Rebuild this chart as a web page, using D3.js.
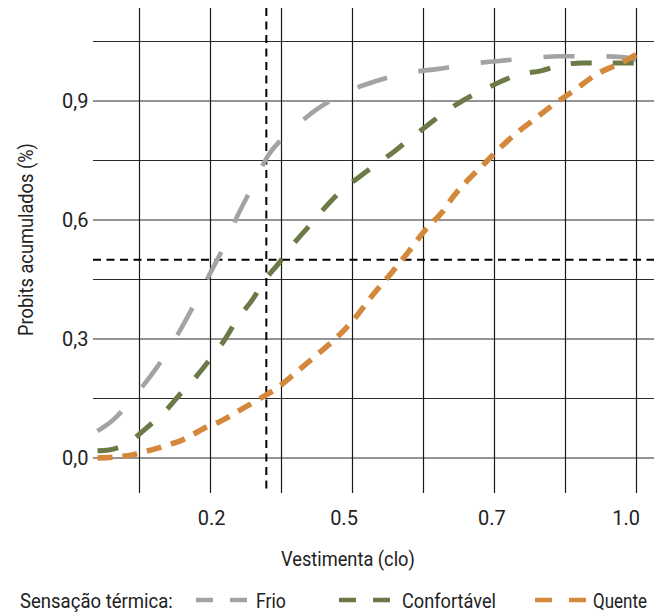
<!DOCTYPE html>
<html>
<head>
<meta charset="utf-8">
<script src="https://cdn.jsdelivr.net/npm/d3@7"></script>
<style>
  html, body { margin: 0; padding: 0; background: #fff; }
  svg { display: block; }
  text { font-family: Roboto, "Noto Sans", sans-serif; fill: #222; }
</style>
</head>
<body>
<svg id="chart" width="654" height="615"></svg>
<script>
// ---- data (x in position units along the clo axis, y = cumulative probit) ----
const xGridPositions = [1, 2, 3, 4, 5, 6, 7, 8];
const xTickPositions = [2.02, 3.885, 5.97, 7.86];
const xTickLabels = ["0.2", "0.5", "0.7", "1.0"];
const yGridValues = [0, 0.15, 0.3, 0.45, 0.6, 0.75, 0.9, 1.05];
const yTickValues = [0, 0.3, 0.6, 0.9];
const yTickLabels = ["0,0", "0,3", "0,6", "0,9"];
const refX = 2.79;
const refY = 0.5;

const seriesNames = ["Frio", "Confortável", "Quente"];

const frioX = [0.41, 0.63, 0.97, 1.25, 1.52, 1.74, 1.97, 2.18, 2.39, 2.59, 2.81, 3.12, 3.51, 3.89, 4.35, 4.77, 5.22, 5.63, 6.07, 6.49, 6.93, 7.35, 7.80, 8.00];
const frioY = [0.068, 0.096, 0.164, 0.229, 0.305, 0.376, 0.456, 0.529, 0.613, 0.683, 0.761, 0.822, 0.880, 0.920, 0.951, 0.971, 0.981, 0.993, 1.001, 1.008, 1.013, 1.013, 1.011, 1.004];

const confX = [0.41, 0.57, 0.88, 1.07, 1.38, 1.59, 1.81, 2.01, 2.21, 2.38, 2.59, 2.76, 2.97, 3.17, 3.38, 3.60, 3.83, 4.08, 4.34, 4.58, 4.83, 5.05, 5.29, 5.55, 5.82, 6.08, 6.37, 6.66, 6.96, 7.25, 7.55, 7.86, 8.00];
const confY = [0.018, 0.020, 0.043, 0.071, 0.121, 0.164, 0.207, 0.252, 0.300, 0.350, 0.398, 0.446, 0.492, 0.539, 0.582, 0.628, 0.671, 0.706, 0.741, 0.771, 0.807, 0.837, 0.870, 0.900, 0.925, 0.948, 0.968, 0.976, 0.991, 0.996, 0.996, 0.996, 0.996];

const quenteX = [0.41, 0.69, 0.90, 1.05, 1.26, 1.40, 1.60, 1.74, 1.95, 2.09, 2.28, 2.42, 2.60, 2.74, 2.94, 3.12, 3.33, 3.50, 3.79, 4.05, 4.29, 4.55, 4.79, 5.03, 5.27, 5.42, 5.59, 5.83, 6.08, 6.35, 6.54, 6.83, 7.14, 7.45, 7.79, 8.01];
const quenteY = [0.000, 0.003, 0.008, 0.015, 0.025, 0.033, 0.045, 0.058, 0.078, 0.088, 0.106, 0.121, 0.139, 0.154, 0.176, 0.202, 0.234, 0.260, 0.305, 0.355, 0.411, 0.466, 0.519, 0.575, 0.620, 0.658, 0.693, 0.736, 0.781, 0.824, 0.850, 0.890, 0.928, 0.968, 0.996, 1.018];

const series = [
  { name: seriesNames[0], xs: frioX, ys: frioY, color: "#a3a3a3", width: 4.6, dash: "31,32", legendDash: "17,17" },
  { name: seriesNames[1], xs: confX, ys: confY, color: "#6b7a46", width: 5, dash: "21,21", legendDash: "17,17" },
  { name: seriesNames[2], xs: quenteX, ys: quenteY, color: "#d4883b", width: 5.5, dash: "15,10", legendDash: "17,17" }
];

// ---- helpers ----
const svg = d3.select("#chart");
// draw a horizontally condensed text starting at (tx, ty), squeezed to width w, optionally rotated
function condensedText(str, tx, ty, w, rotate) {
  const g = svg.append("g").attr("transform", `translate(${tx},${ty})` + (rotate ? ` rotate(${rotate})` : ""));
  const t = g.append("text").attr("x", 0).attr("y", 0).attr("font-size", 20).text(str);
  const natural = t.node().getComputedTextLength();
  const k = Math.min(1, w / natural);
  t.attr("transform", `scale(${k},1)`);
  return t;
}

// ---- scales ----
const x = d3.scaleLinear().domain([0.347, 8.254]).range([93, 654]);
const y = d3.scaleLinear().domain([0, 1.05]).range([458, 41.5]);

const gridTop = 8, gridBottom = 493;

// horizontal grid
svg.append("g").selectAll("line").data(yGridValues).join("line")
  .attr("x1", x.range()[0]).attr("x2", x.range()[1])
  .attr("y1", d => y(d)).attr("y2", d => y(d))
  .attr("stroke", "#2a2a2a").attr("stroke-width", 1.1);

// vertical grid
svg.append("g").selectAll("line").data(xGridPositions).join("line")
  .attr("x1", d => Math.round(x(d)) + 0.5).attr("x2", d => Math.round(x(d)) + 0.5)
  .attr("y1", gridTop).attr("y2", gridBottom)
  .attr("stroke", "#1a1a1a").attr("stroke-width", 1.2);

// reference dashed lines
svg.append("line")
  .attr("x1", x.range()[0]).attr("x2", x.range()[1])
  .attr("y1", y(refY)).attr("y2", y(refY))
  .attr("stroke", "#000").attr("stroke-width", 2).attr("stroke-dasharray", "8,5.5");
svg.append("line")
  .attr("x1", x(refX)).attr("x2", x(refX))
  .attr("y1", gridTop).attr("y2", gridBottom - 2)
  .attr("stroke", "#000").attr("stroke-width", 2).attr("stroke-dasharray", "8,5.5");

// y tick labels
svg.append("g").selectAll("text").data(yTickValues).join("text")
  .attr("x", 88.5).attr("y", d => y(d) + 7)
  .attr("text-anchor", "end").attr("font-size", 20)
  .text((d, i) => yTickLabels[i]);

// x tick labels
svg.append("g").selectAll("text").data(xTickPositions).join("text")
  .attr("x", d => x(d)).attr("y", 525)
  .attr("text-anchor", "middle").attr("font-size", 20)
  .text((d, i) => xTickLabels[i]);

// axis titles
condensedText("Vestimenta (clo)", 281, 566, 134);
condensedText("Probits acumulados (%)", 33, 336, 193, -90);

// curves
const line = d3.line().x(d => x(d[0])).y(d => y(d[1])).curve(d3.curveMonotoneX);
series.forEach(s => {
  const pts = s.xs.map((v, i) => [v, s.ys[i]]);
  svg.append("path").datum(pts)
    .attr("d", line)
    .attr("fill", "none")
    .attr("stroke", s.color)
    .attr("stroke-width", s.width)
    .attr("stroke-dasharray", s.dash);
});

// legend
const legendY = 600;
condensedText("Sensação térmica:", 20, 608, 153);
const legendItems = [
  { sx: 196, tx: 256, tw: 30 },
  { sx: 339, tx: 402, tw: 94 },
  { sx: 535, tx: 593, tw: 54 }
];
series.forEach((s, i) => {
  const li = legendItems[i];
  svg.append("line")
    .attr("x1", li.sx).attr("x2", li.sx + 51)
    .attr("y1", legendY).attr("y2", legendY)
    .attr("stroke", s.color).attr("stroke-width", 4.5)
    .attr("stroke-dasharray", s.legendDash);
  condensedText(s.name, li.tx, 608, li.tw);
});
</script>
</body>
</html>
